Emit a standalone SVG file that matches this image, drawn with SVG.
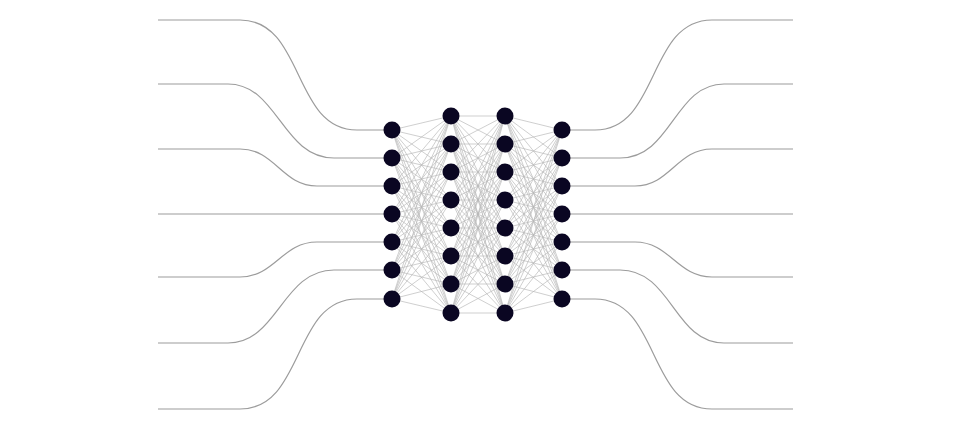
<svg xmlns="http://www.w3.org/2000/svg" width="953" height="426" viewBox="0 0 953 426">
<style>
.io{fill:none;stroke:#9c9c9c;stroke-width:1.2}
.mesh{fill:none;stroke:#b8b8b8;stroke-width:0.75;stroke-opacity:0.9}
.n{fill:#0a0622}
</style>
<rect width="953" height="426" fill="#ffffff"/>
<g id="connectors">
<g id="inputs">
<path class="io" d="M158 20H240C305 20 292 130 357 130H384"/>
<path class="io" d="M158 84H228C278 84 282 158 334 158H384"/>
<path class="io" d="M158 149H240C275 149 282 186 317 186H384"/>
<path class="io" d="M158 214H384"/>
<path class="io" d="M158 277H240C275 277 282 242 317 242H384"/>
<path class="io" d="M158 343H228C278 343 282 270 334 270H384"/>
<path class="io" d="M158 409H240C305 409 292 299 357 299H384"/>
</g>
<g id="outputs">
<path class="io" d="M570 130H595C660 130 647 20 712 20H793"/>
<path class="io" d="M570 158H620C672 158 674 84 724 84H793"/>
<path class="io" d="M570 186H635C670 186 677 149 712 149H793"/>
<path class="io" d="M570 214H793"/>
<path class="io" d="M570 242H635C670 242 677 277 712 277H793"/>
<path class="io" d="M570 270H620C672 270 674 343 724 343H793"/>
<path class="io" d="M570 299H595C660 299 647 409 712 409H793"/>
</g>
<path id="mesh12" class="mesh" d="M392 130L451 116M392 130L451 144M392 130L451 172M392 130L451 200M392 130L451 228M392 130L451 256M392 130L451 284M392 130L451 313M392 158L451 116M392 158L451 144M392 158L451 172M392 158L451 200M392 158L451 228M392 158L451 256M392 158L451 284M392 158L451 313M392 186L451 116M392 186L451 144M392 186L451 172M392 186L451 200M392 186L451 228M392 186L451 256M392 186L451 284M392 186L451 313M392 214L451 116M392 214L451 144M392 214L451 172M392 214L451 200M392 214L451 228M392 214L451 256M392 214L451 284M392 214L451 313M392 242L451 116M392 242L451 144M392 242L451 172M392 242L451 200M392 242L451 228M392 242L451 256M392 242L451 284M392 242L451 313M392 270L451 116M392 270L451 144M392 270L451 172M392 270L451 200M392 270L451 228M392 270L451 256M392 270L451 284M392 270L451 313M392 299L451 116M392 299L451 144M392 299L451 172M392 299L451 200M392 299L451 228M392 299L451 256M392 299L451 284M392 299L451 313"/>
<path id="mesh23" class="mesh" d="M451 116L505 116M451 116L505 144M451 116L505 172M451 116L505 200M451 116L505 228M451 116L505 256M451 116L505 284M451 116L505 313M451 144L505 116M451 144L505 144M451 144L505 172M451 144L505 200M451 144L505 228M451 144L505 256M451 144L505 284M451 144L505 313M451 172L505 116M451 172L505 144M451 172L505 172M451 172L505 200M451 172L505 228M451 172L505 256M451 172L505 284M451 172L505 313M451 200L505 116M451 200L505 144M451 200L505 172M451 200L505 200M451 200L505 228M451 200L505 256M451 200L505 284M451 200L505 313M451 228L505 116M451 228L505 144M451 228L505 172M451 228L505 200M451 228L505 228M451 228L505 256M451 228L505 284M451 228L505 313M451 256L505 116M451 256L505 144M451 256L505 172M451 256L505 200M451 256L505 228M451 256L505 256M451 256L505 284M451 256L505 313M451 284L505 116M451 284L505 144M451 284L505 172M451 284L505 200M451 284L505 228M451 284L505 256M451 284L505 284M451 284L505 313M451 313L505 116M451 313L505 144M451 313L505 172M451 313L505 200M451 313L505 228M451 313L505 256M451 313L505 284M451 313L505 313"/>
<path id="mesh34" class="mesh" d="M562 130L505 116M562 130L505 144M562 130L505 172M562 130L505 200M562 130L505 228M562 130L505 256M562 130L505 284M562 130L505 313M562 158L505 116M562 158L505 144M562 158L505 172M562 158L505 200M562 158L505 228M562 158L505 256M562 158L505 284M562 158L505 313M562 186L505 116M562 186L505 144M562 186L505 172M562 186L505 200M562 186L505 228M562 186L505 256M562 186L505 284M562 186L505 313M562 214L505 116M562 214L505 144M562 214L505 172M562 214L505 200M562 214L505 228M562 214L505 256M562 214L505 284M562 214L505 313M562 242L505 116M562 242L505 144M562 242L505 172M562 242L505 200M562 242L505 228M562 242L505 256M562 242L505 284M562 242L505 313M562 270L505 116M562 270L505 144M562 270L505 172M562 270L505 200M562 270L505 228M562 270L505 256M562 270L505 284M562 270L505 313M562 299L505 116M562 299L505 144M562 299L505 172M562 299L505 200M562 299L505 228M562 299L505 256M562 299L505 284M562 299L505 313"/>
</g>
<g id="layer1">
<g id="n1-1"><circle class="n" cx="392" cy="130" r="8.5"/></g>
<g id="n1-2"><circle class="n" cx="392" cy="158" r="8.5"/></g>
<g id="n1-3"><circle class="n" cx="392" cy="186" r="8.5"/></g>
<g id="n1-4"><circle class="n" cx="392" cy="214" r="8.5"/></g>
<g id="n1-5"><circle class="n" cx="392" cy="242" r="8.5"/></g>
<g id="n1-6"><circle class="n" cx="392" cy="270" r="8.5"/></g>
<g id="n1-7"><circle class="n" cx="392" cy="299" r="8.5"/></g>
</g>
<g id="layer2">
<g id="n2-1"><circle class="n" cx="451" cy="116" r="8.5"/></g>
<g id="n2-2"><circle class="n" cx="451" cy="144" r="8.5"/></g>
<g id="n2-3"><circle class="n" cx="451" cy="172" r="8.5"/></g>
<g id="n2-4"><circle class="n" cx="451" cy="200" r="8.5"/></g>
<g id="n2-5"><circle class="n" cx="451" cy="228" r="8.5"/></g>
<g id="n2-6"><circle class="n" cx="451" cy="256" r="8.5"/></g>
<g id="n2-7"><circle class="n" cx="451" cy="284" r="8.5"/></g>
<g id="n2-8"><circle class="n" cx="451" cy="313" r="8.5"/></g>
</g>
<g id="layer3">
<g id="n3-1"><circle class="n" cx="505" cy="116" r="8.5"/></g>
<g id="n3-2"><circle class="n" cx="505" cy="144" r="8.5"/></g>
<g id="n3-3"><circle class="n" cx="505" cy="172" r="8.5"/></g>
<g id="n3-4"><circle class="n" cx="505" cy="200" r="8.5"/></g>
<g id="n3-5"><circle class="n" cx="505" cy="228" r="8.5"/></g>
<g id="n3-6"><circle class="n" cx="505" cy="256" r="8.5"/></g>
<g id="n3-7"><circle class="n" cx="505" cy="284" r="8.5"/></g>
<g id="n3-8"><circle class="n" cx="505" cy="313" r="8.5"/></g>
</g>
<g id="layer4">
<g id="n4-1"><circle class="n" cx="562" cy="130" r="8.5"/></g>
<g id="n4-2"><circle class="n" cx="562" cy="158" r="8.5"/></g>
<g id="n4-3"><circle class="n" cx="562" cy="186" r="8.5"/></g>
<g id="n4-4"><circle class="n" cx="562" cy="214" r="8.5"/></g>
<g id="n4-5"><circle class="n" cx="562" cy="242" r="8.5"/></g>
<g id="n4-6"><circle class="n" cx="562" cy="270" r="8.5"/></g>
<g id="n4-7"><circle class="n" cx="562" cy="299" r="8.5"/></g>
</g>
</svg>
